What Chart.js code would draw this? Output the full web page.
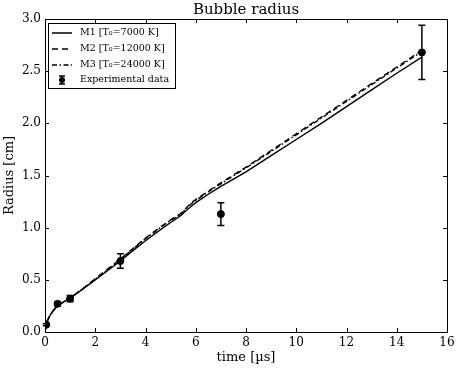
<!DOCTYPE html>
<html>
<head>
<meta charset="utf-8">
<script src="https://cdn.jsdelivr.net/npm/chart.js@4"></script>
<style>
  body { margin: 0; background: #fff; }
</style>
</head>
<body>
<canvas id="radiusChart" width="459" height="370"></canvas>
<script>
// model curves (time in us, radius in cm)
const timeGrid = [0, 0.05, 0.1, 0.2, 0.3, 0.4, 0.5, 0.75, 1, 1.5, 2, 2.5, 3, 3.5, 4, 4.5, 5, 5.4, 5.6, 5.8, 6, 6.5, 7, 7.5, 8, 9, 10, 11, 12, 13, 14, 15];
const radiusM1 = [0, 0.07, 0.11, 0.16, 0.195, 0.225, 0.25, 0.29, 0.325, 0.41, 0.50, 0.59, 0.68, 0.78, 0.875, 0.965, 1.05, 1.115, 1.16, 1.2, 1.24, 1.32, 1.395, 1.465, 1.535, 1.69, 1.845, 2.0, 2.16, 2.32, 2.48, 2.635];
const radiusM2 = [0, 0.07, 0.11, 0.16, 0.195, 0.225, 0.25, 0.29, 0.325, 0.415, 0.51, 0.605, 0.70, 0.80, 0.90, 0.99, 1.075, 1.135, 1.185, 1.235, 1.27, 1.35, 1.43, 1.505, 1.58, 1.74, 1.90, 2.06, 2.22, 2.38, 2.54, 2.70];
const radiusM3 = [0, 0.07, 0.11, 0.16, 0.195, 0.225, 0.25, 0.29, 0.325, 0.413, 0.507, 0.60, 0.695, 0.795, 0.895, 0.985, 1.07, 1.128, 1.175, 1.225, 1.262, 1.342, 1.42, 1.497, 1.572, 1.73, 1.89, 2.05, 2.21, 2.37, 2.53, 2.688];

// experimental points with error bars
const expTime = [0.05, 0.5, 1, 3, 7, 15];
const expRadius = [0.07, 0.27, 0.32, 0.68, 1.13, 2.68];
const expError = [0.01, 0.02, 0.03, 0.07, 0.11, 0.26];

const seriesLabels = ['M1 [T\u2080=7000 K]', 'M2 [T\u2080=12000 K]', 'M3 [T\u2080=24000 K]', 'Experimental data'];
const xTicks = { min: 0, max: 16, step: 2 };
const yTicks = { min: 0, max: 3, step: 0.5 };

const serif = "'DejaVu Serif', serif";
const toPoints = (xs, ys) => xs.map((x, i) => ({ x: x, y: ys[i] }));

const dashes = [[], [6, 4], [5, 2.5, 1.5, 2.5]];

const extras = {
  id: 'extras',
  afterDatasetsDraw(chart) {
    const ctx = chart.ctx;
    const xs = chart.scales.x, ys = chart.scales.y;
    ctx.save();
    ctx.strokeStyle = '#000';
    ctx.lineWidth = 1.5;
    expTime.forEach((t, i) => {
      const px = xs.getPixelForValue(t);
      const top = ys.getPixelForValue(expRadius[i] + expError[i]);
      const bot = ys.getPixelForValue(expRadius[i] - expError[i]);
      ctx.beginPath();
      ctx.moveTo(px, top); ctx.lineTo(px, bot);
      ctx.moveTo(px - 3.5, top); ctx.lineTo(px + 3.5, top);
      ctx.moveTo(px - 3.5, bot); ctx.lineTo(px + 3.5, bot);
      ctx.stroke();
    });
    ctx.restore();
  },
  afterDraw(chart) {
    const ctx = chart.ctx;
    const a = chart.chartArea;
    const xs = chart.scales.x, ys = chart.scales.y;
    ctx.save();
    ctx.strokeStyle = '#000';
    ctx.lineWidth = 1;
    // frame
    ctx.strokeRect(Math.round(a.left) + 0.5, Math.round(a.top) + 0.5,
      Math.round(a.right - a.left), Math.round(a.bottom - a.top));
    // inward ticks on all four sides
    ctx.beginPath();
    xs.ticks.forEach(tk => {
      const px = Math.round(xs.getPixelForValue(tk.value)) + 0.5;
      ctx.moveTo(px, a.bottom); ctx.lineTo(px, a.bottom - 4);
      ctx.moveTo(px, a.top); ctx.lineTo(px, a.top + 4);
    });
    ys.ticks.forEach(tk => {
      const py = Math.round(ys.getPixelForValue(tk.value)) + 0.5;
      ctx.moveTo(a.left, py); ctx.lineTo(a.left + 4, py);
      ctx.moveTo(a.right, py); ctx.lineTo(a.right - 4, py);
    });
    ctx.stroke();

    // title
    ctx.fillStyle = '#000';
    ctx.font = '15px ' + serif;
    ctx.textAlign = 'center';
    ctx.textBaseline = 'middle';
    ctx.fillText('Bubble radius', (a.left + a.right) / 2, 10);

    // legend box
    const lx = 48, ly = 23, lw = 127, lh = 65;
    ctx.fillStyle = '#fff';
    ctx.fillRect(lx, ly, lw, lh);
    ctx.strokeRect(lx + 0.5, ly + 0.5, lw, lh);
    const rows = [33, 49, 65, 80];
    ctx.font = '9.5px ' + serif;
    ctx.textAlign = 'left';
    ctx.fillStyle = '#000';
    rows.forEach((ry, i) => {
      if (i < 3) {
        ctx.save();
        ctx.lineWidth = 1.5;
        ctx.setLineDash(dashes[i]);
        ctx.beginPath();
        ctx.moveTo(52, ry); ctx.lineTo(72, ry);
        ctx.stroke();
        ctx.restore();
      } else {
        ctx.save();
        ctx.lineWidth = 1.5;
        ctx.beginPath();
        ctx.moveTo(62, ry - 4); ctx.lineTo(62, ry + 4);
        ctx.moveTo(59, ry - 4); ctx.lineTo(65, ry - 4);
        ctx.moveTo(59, ry + 4); ctx.lineTo(65, ry + 4);
        ctx.stroke();
        ctx.beginPath();
        ctx.arc(62, ry, 3, 0, Math.PI * 2);
        ctx.fill();
        ctx.restore();
      }
      ctx.fillText(seriesLabels[i], 80, ry);
    });
    ctx.restore();
  }
};

const lineSet = (label, ys, dash) => ({
  label: label,
  data: toPoints(timeGrid, ys),
  borderColor: '#000',
  borderWidth: 1.4,
  borderDash: dash,
  pointRadius: 0,
  fill: false,
  tension: 0
});

new Chart(document.getElementById('radiusChart'), {
  type: 'line',
  data: {
    datasets: [
      lineSet(seriesLabels[0], radiusM1, dashes[0]),
      lineSet(seriesLabels[1], radiusM2, dashes[1]),
      lineSet(seriesLabels[2], radiusM3, dashes[2]),
      {
        label: seriesLabels[3],
        data: toPoints(expTime, expRadius),
        showLine: false,
        pointRadius: 3.5,
        pointBackgroundColor: '#000',
        pointBorderColor: '#000',
        borderColor: '#000'
      }
    ]
  },
  options: {
    responsive: false,
    animation: false,
    devicePixelRatio: 1,
    layout: { padding: { top: 19, right: 12, left: 0, bottom: 0 } },
    plugins: {
      legend: { display: false },
      title: { display: false },
      tooltip: { enabled: false }
    },
    scales: {
      x: {
        type: 'linear',
        min: xTicks.min,
        max: xTicks.max,
        border: { display: false },
        grid: { display: false, drawTicks: false },
        ticks: { stepSize: xTicks.step, padding: 4, color: '#000', font: { family: serif, size: 12 } },
        title: { display: true, text: 'time [\u00b5s]', color: '#000', font: { family: serif, size: 13 }, padding: { top: 0, bottom: 5 } },
        afterFit: s => { s.height = 38; }
      },
      y: {
        min: yTicks.min,
        max: yTicks.max,
        border: { display: false },
        grid: { display: false, drawTicks: false },
        ticks: { stepSize: yTicks.step, padding: 4, color: '#000', font: { family: serif, size: 12 }, callback: v => v.toFixed(1) },
        title: { display: true, text: 'Radius [cm]', color: '#000', font: { family: serif, size: 13 }, padding: { top: 2, bottom: 0 } },
        afterFit: s => { s.width = 45; }
      }
    }
  },
  plugins: [extras]
});
</script>
</body>
</html>
